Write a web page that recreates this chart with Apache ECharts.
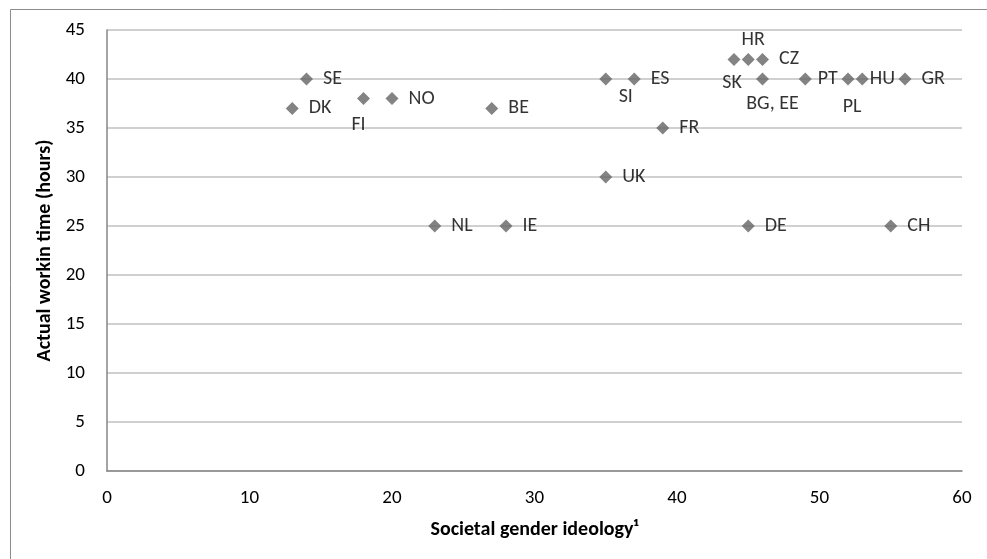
<!DOCTYPE html>
<html>
<head>
<meta charset="utf-8">
<script src="https://cdn.jsdelivr.net/npm/echarts@6/dist/echarts.min.js"></script>
<style>
html,body{margin:0;padding:0;background:#fff;}
#c{width:987px;height:559px;}
</style>
</head>
<body>
<div id="c"></div>
<script>
const countries = ['SE','DK','FI','NO','BE','NL','IE','SI','ES','UK','FR','SK','HR','CZ','BG, EE','PT','PL','HU','GR','DE','CH'];
const ideology  = [14, 13, 18, 20, 27, 23, 28, 35, 37, 35, 39, 44, 45, 46, 46, 49, 52, 53, 56, 45, 55];
const workTime  = [40, 37, 38, 38, 37, 25, 25, 40, 40, 30, 35, 42, 42, 42, 40, 40, 40, 40, 40, 25, 25];
const xTicks = [0, 10, 20, 30, 40, 50, 60];
const yTicks = [0, 5, 10, 15, 20, 25, 30, 35, 40, 45];
const xTitle = 'Societal gender ideology\u00B9';
const yTitle = 'Actual workin time (hours)';

// label placement (layout only)
const labelPlace = {
  'FI': {position: 'bottom', offset: [-5, 0]},
  'SI': {position: 'bottom', offset: [20, -9]},
  'SK': {position: 'bottom', offset: [-2, -3]},
  'HR': {position: 'top', offset: [5, 7]},
  'BG, EE': {position: 'bottom', offset: [10, -2]},
  'PL': {position: 'bottom', offset: [4, 1]},
  'PT': {position: 'right', offset: [-4, 0]},
  'HU': {position: 'right', offset: [-9, 0]}
};

const FONT = 'Carlito, Lato, "Liberation Sans", sans-serif';
const chart = echarts.init(document.getElementById('c'));
const data = countries.map((n, i) => {
  const p = labelPlace[n] || {position: 'right', offset: [0, 0]};
  return {
    name: n,
    value: [ideology[i], workTime[i]],
    label: {position: p.position, offset: p.offset}
  };
});
chart.setOption({
  animation: false,
  backgroundColor: '#fff',
  graphic: [{
    type: 'rect', left: 8, top: 7,
    shape: {width: 990, height: 600},
    style: {fill: 'none', stroke: '#8c8c8c', lineWidth: 1},
    silent: true
  }],
  grid: {left: 107, right: 25, top: 30, bottom: 88, containLabel: false},
  xAxis: {
    type: 'value', min: xTicks[0], max: xTicks[xTicks.length - 1], interval: 10,
    name: xTitle, nameLocation: 'middle', nameGap: 49,
    nameTextStyle: {fontFamily: FONT, fontWeight: 'bold', fontSize: 20, color: '#000'},
    axisLine: {show: true, lineStyle: {color: '#868686', width: 1.5}},
    axisTick: {show: false},
    splitLine: {show: false},
    axisLabel: {fontFamily: FONT, fontSize: 19, color: '#000', margin: 18}
  },
  yAxis: {
    type: 'value', min: yTicks[0], max: yTicks[yTicks.length - 1], interval: 5,
    name: yTitle, nameLocation: 'middle', nameGap: 50, nameRotate: 90,
    nameTextStyle: {fontFamily: FONT, fontWeight: 'bold', fontSize: 20, color: '#000'},
    axisLine: {show: true, lineStyle: {color: '#868686', width: 1.5}},
    axisTick: {show: false},
    splitLine: {show: true, lineStyle: {color: '#c0c0c0', width: 1.5}},
    axisLabel: {fontFamily: FONT, fontSize: 19, color: '#000', margin: 22}
  },
  series: [{
    type: 'scatter',
    symbol: 'diamond',
    symbolSize: 13,
    itemStyle: {color: '#646464'},
    label: {
      show: true,
      formatter: p => p.name,
      fontFamily: FONT, fontSize: 20, color: '#000',
      distance: 10
    },
    data: data
  }]
});
</script>
</body>
</html>
